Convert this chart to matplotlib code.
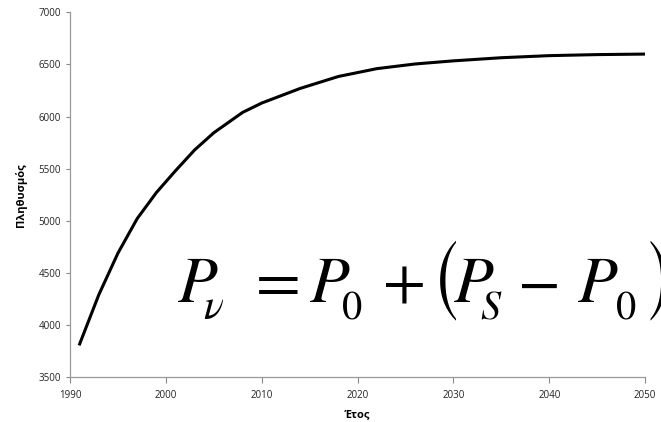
import matplotlib
matplotlib.use("Agg")
import matplotlib.pyplot as plt

# values
years = [1991, 1993, 1995, 1997, 1999, 2001, 2003, 2005, 2008, 2010, 2014,
         2018, 2022, 2026, 2030, 2035, 2040, 2045, 2050]
population = [3817, 4290, 4690, 5020, 5270, 5480, 5680, 5845, 6040, 6130, 6270,
              6385, 6460, 6505, 6535, 6565, 6585, 6595, 6600]
xticks = [1990, 2000, 2010, 2020, 2030, 2040, 2050]
yticks = [3500, 4000, 4500, 5000, 5500, 6000, 6500, 7000]

plt.rcParams["font.family"] = ["Open Sans", "DejaVu Sans"]

W, H = 661, 422
fig = plt.figure(figsize=(W / 100, H / 100), dpi=100)
ax = fig.add_axes([0.106, 0.1066, 0.87, 0.864])
ax.plot(years, population, color="black", lw=2.2, solid_joinstyle="round")

ax.set_xlim(1990, 2050); ax.set_ylim(3500, 7000)
ax.set_xticks(xticks); ax.set_yticks(yticks)
ax.tick_params(labelsize=7, colors="#888888", labelcolor="#222222", length=4, width=0.8)
ax.tick_params(axis="x", pad=5)
ax.tick_params(axis="y", length=3)
for s in ("top", "right"):
    ax.spines[s].set_visible(False)
for s in ("left", "bottom"):
    ax.spines[s].set_color("#999999"); ax.spines[s].set_linewidth(0.9)

ax.set_xlabel("Έτος", fontsize=8, fontweight="bold", labelpad=6)
ax.set_ylabel("Πληθυσμός", fontsize=8, fontweight="bold", labelpad=8)


# formula, set piece by piece like an equation-editor object (pixel coords)
def put(x, y, s, size, italic=False, family="STIXGeneral"):
    fig.text(x / W, (H - y) / H, s, fontsize=size, family=family,
             fontstyle="italic" if italic else "normal", ha="left", va="baseline")


base, sub = 302, 319
put(178, base, "P", 47, True)
put(203, sub, "ν", 30, True)
put(256, base, "=", 47)
put(310, base, "P", 47, True)
put(342, sub, "0", 29)
put(383, base, "+", 45)
put(431, 309, "(", 47, family="STIXSizeOneSym")
put(454, base, "P", 47, True)
put(480, sub, "S", 29, True)
put(518, base, "−", 45)
put(578, base, "P", 47, True)
put(616, sub, "0", 29)
put(644, 309, ")", 47, family="STIXSizeOneSym")

fig.savefig("out.png", dpi=100)
